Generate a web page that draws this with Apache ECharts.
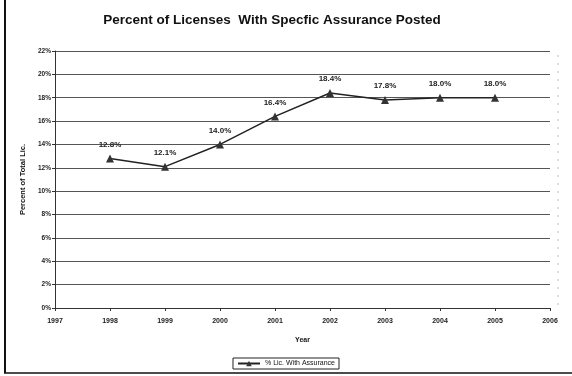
<!DOCTYPE html>
<html>
<head>
<meta charset="utf-8">
<script src="https://cdn.jsdelivr.net/npm/echarts@6/dist/echarts.min.js"></script>
<style>
  html, body { margin: 0; padding: 0; background: #fff; }
  #chart { width: 572px; height: 376px; }
</style>
</head>
<body>
<div id="chart"></div>
<script>
// Years on the x axis and the share of licences with assurance posted
const years = [1998, 1999, 2000, 2001, 2002, 2003, 2004, 2005];
const pctWithAssurance = [12.8, 12.1, 14.0, 16.4, 18.4, 17.8, 18.0, 18.0];
const yTicks = [0, 2, 4, 6, 8, 10, 12, 14, 16, 18, 20, 22];
const xRange = [1997, 2006];

const font = '"Liberation Sans", Arial, sans-serif';
const chart = echarts.init(document.getElementById('chart'));

chart.setOption({
  backgroundColor: '#fff',
  animation: false,
  title: {
    text: 'Percent of Licenses  With Specfic Assurance Posted',
    left: 267,
    textAlign: 'center',
    top: 8,
    textStyle: { fontFamily: font, fontSize: 13.5, fontWeight: 'bold', color: '#111' }
  },
  grid: { left: 55, right: 22, top: 51, bottom: 68 },
  legend: {
    bottom: 7,
    left: 'center',
    data: ['% Lic. With Assurance'],
    itemWidth: 22,
    itemHeight: 7,
    itemGap: 4,
    padding: [2, 4, 2, 4],
    borderColor: '#222',
    borderWidth: 1,
    textStyle: { fontFamily: font, fontSize: 7, color: '#111' }
  },
  xAxis: {
    type: 'value',
    min: xRange[0],
    max: xRange[1],
    interval: 1,
    name: 'Year',
    nameLocation: 'middle',
    nameGap: 29,
    nameTextStyle: { fontFamily: font, fontSize: 7, fontWeight: 'bold', color: '#111' },
    axisLine: { lineStyle: { color: '#333', width: 1 } },
    axisTick: { inside: false, length: 3, lineStyle: { color: '#333' } },
    axisLabel: { fontFamily: font, fontSize: 7, fontWeight: 'bold', color: '#222', margin: 10, formatter: v => String(v) },
    splitLine: { show: false }
  },
  yAxis: {
    type: 'value',
    min: yTicks[0],
    max: yTicks[yTicks.length - 1],
    interval: 2,
    name: 'Percent of Total Lic.',
    nameLocation: 'middle',
    nameGap: 23,
    nameTextStyle: { fontFamily: font, fontSize: 7.5, fontWeight: 'bold', color: '#111' },
    axisLine: { show: true, lineStyle: { color: '#333', width: 1 } },
    axisTick: { show: true, length: 3, lineStyle: { color: '#333' } },
    axisLabel: { fontFamily: font, fontSize: 6.5, fontWeight: 'bold', color: '#222', margin: 4, formatter: '{value}%' },
    splitLine: { show: true, lineStyle: { color: '#555', width: 1 } }
  },
  series: [{
    name: '% Lic. With Assurance',
    type: 'line',
    data: years.map((y, i) => [y, pctWithAssurance[i]]),
    symbol: 'triangle',
    symbolSize: 8,
    lineStyle: { color: '#222', width: 1.5 },
    itemStyle: { color: '#333' },
    label: {
      show: true,
      position: 'top',
      distance: 6,
      fontFamily: font,
      fontSize: 8,
      fontWeight: 'bold',
      color: '#222',
      formatter: p => p.value[1].toFixed(1) + '%'
    }
  }],
  graphic: [
    { type: 'line', shape: { x1: 5, y1: 0, x2: 5, y2: 373 }, style: { stroke: '#111', lineWidth: 2 } },
    { type: 'line', shape: { x1: 4, y1: 373, x2: 572, y2: 373 }, style: { stroke: '#111', lineWidth: 1.5 } },
    { type: 'line', shape: { x1: 558, y1: 55, x2: 558, y2: 305 }, style: { stroke: '#bbb', lineWidth: 1, lineDash: [2, 6] } }
  ]
});
</script>
</body>
</html>
